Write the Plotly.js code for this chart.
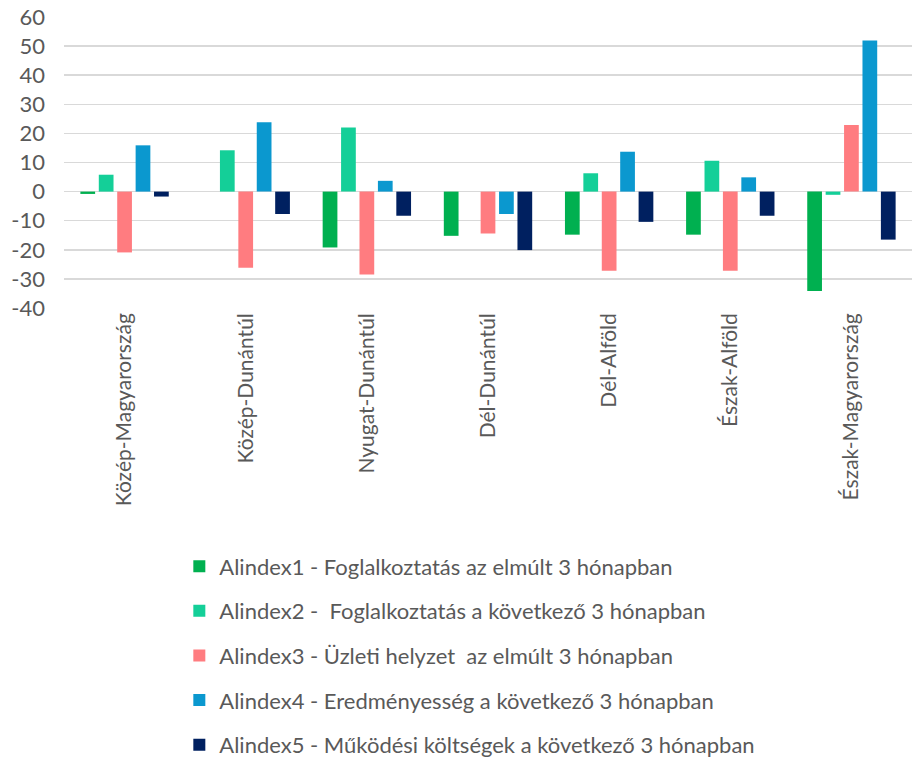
<!DOCTYPE html>
<html><head><meta charset="utf-8">
<script src="https://cdn.plot.ly/plotly-3.0.1.min.js"></script>
<style>html,body{margin:0;padding:0;background:#fff;}#chart{width:914px;height:762px;}</style>
</head><body><div id="chart"></div>
<script>
const regions = ["Közép-Magyarország","Közép-Dunántúl","Nyugat-Dunántúl","Dél-Dunántúl","Dél-Alföld","Észak-Alföld","Észak-Magyarország"];
const seriesNames = [
  "Alindex1 - Foglalkoztatás az elmúlt 3 hónapban",
  "Alindex2 -  Foglalkoztatás a következő 3 hónapban",
  "Alindex3 - Üzleti helyzet  az elmúlt 3 hónapban",
  "Alindex4 - Eredményesség a következő 3 hónapban",
  "Alindex5 - Működési költségek a következő 3 hónapban"
];
const alindex1 = [-0.8, 0, -19.2, -15.2, -14.8, -14.8, -34.2];
const alindex2 = [5.8, 14.2, 22.0, 0, 6.3, 10.6, -1.1];
const alindex3 = [-20.9, -26.2, -28.5, -14.4, -27.2, -27.2, 22.9];
const alindex4 = [15.9, 23.8, 3.7, -7.7, 13.7, 4.9, 51.9];
const alindex5 = [-1.7, -7.7, -8.3, -20.1, -10.4, -8.3, -16.5];
const yTicks = [-40,-30,-20,-10,0,10,20,30,40,50,60];
const colors = ["#00B050","#14CF98","#FF7C80","#0B98CF","#002060"];
const allSeries = [alindex1, alindex2, alindex3, alindex4, alindex5];

const traces = allSeries.map((vals, i) => ({
  type: 'bar', x: regions, y: vals, name: seriesNames[i],
  marker: {color: colors[i]}, legendgroup: 'g'+i, hoverinfo: 'x+y'
}));

const font = {family: 'Lato, "Open Sans", sans-serif', color: '#595959', size: 22};
const layout = {
  width: 914, height: 762,
  margin: {l: 64, r: 2, t: 17, b: 454, autoexpand: false},
  paper_bgcolor: '#fff', plot_bgcolor: '#fff',
  font: font,
  barmode: 'group', bargap: 0.24, bargroupgap: 0.2,
  xaxis: {tickangle: -90, showgrid: false, zeroline: false, showline: false, ticks: '',
          tickfont: {size: 21, color: '#595959'}, automargin: false},
  yaxis: {range: [-40, 60], tickvals: yTicks, ticktext: yTicks.map(String),
          gridcolor: '#D9D9D9', gridwidth: 1.5, zeroline: false, showline: false,
          tickfont: {size: 22, color: '#595959'}, ticklen: 0, ticks: '',
          ticklabelstandoff: 18, automargin: false},
  showlegend: true,
  legend: {x: 0.136, xanchor: 'left', y: -0.816, yanchor: 'top', orientation: 'v',
           tracegroupgap: 13, font: {size: 22, color: '#595959'}, bgcolor: 'rgba(0,0,0,0)'}
};
Plotly.newPlot('chart', traces, layout, {displayModeBar: false, staticPlot: true});
</script></body></html>
